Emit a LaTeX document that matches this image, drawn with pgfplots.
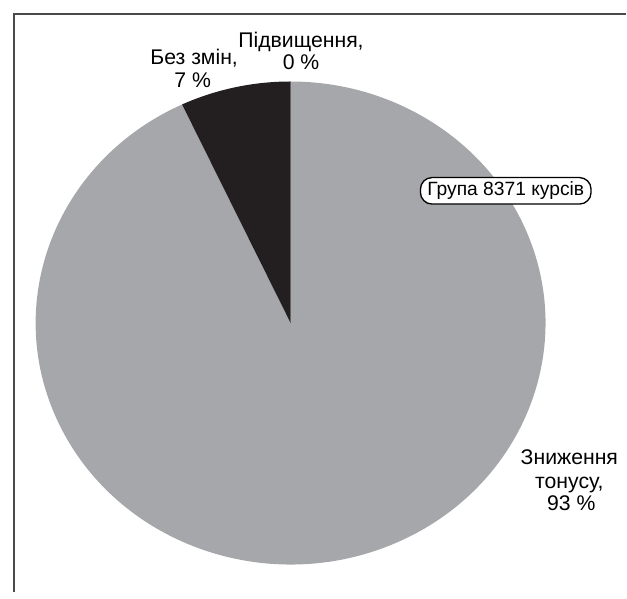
\documentclass[border=0pt]{standalone}
\usepackage{pgfplots}
\usepackage{pgfplotstable}
\pgfplotsset{compat=1.18}
\usepackage{fontspec}
\setmainfont{Liberation Sans}
\definecolor{piegray}{HTML}{A6A7AB}
\definecolor{piedark}{HTML}{231F20}
\definecolor{framec}{HTML}{4A4A4A}
\pgfplotstableread{
key value
znyzh 93
bez 7
pidv 0
}\piedata
\begin{document}
\begin{tikzpicture}
\begin{axis}[x=0.6pt, y=0.6pt, xmin=0, xmax=627, ymin=0, ymax=596,
  scale only axis, axis lines=none, clip=false]
\path (axis cs:0,0) rectangle (axis cs:627,596);
\pgfplotstablegetelem{0}{value}\of\piedata \let\vA\pgfplotsretval
\pgfplotstablegetelem{1}{value}\of\piedata \let\vB\pgfplotsretval
\pgfplotstablegetelem{2}{value}\of\piedata \let\vC\pgfplotsretval
\pgfmathsetmacro\aOne{90+3.6*\vC}
\pgfmathsetmacro\aTwo{\aOne+3.6*\vB}
\pgfmathsetmacro\aThree{\aTwo+3.6*\vA}
\pgfmathsetmacro\sBx{289.5+256.5*cos(\aOne)}
\pgfmathsetmacro\sBy{271+243*sin(\aOne)}
\pgfmathsetmacro\sAx{289.5+256.5*cos(\aTwo)}
\pgfmathsetmacro\sAy{271+243*sin(\aTwo)}
\fill[piegray] (axis cs:289.5,271) -- (axis cs:\sAx,\sAy)
  arc[start angle=\aTwo, end angle=\aThree, x radius=153.9pt, y radius=145.8pt] -- cycle;
\fill[piedark] (axis cs:289.5,271) -- (axis cs:\sBx,\sBy)
  arc[start angle=\aOne, end angle=\aTwo, x radius=153.9pt, y radius=145.8pt] -- cycle;
\draw[framec, line width=1.2pt] (axis cs:11,0) -- (axis cs:11,582) -- (axis cs:627,582);
\tikzset{lbl/.style={anchor=base, inner sep=0pt, font=\fontsize{12.8}{14}\selectfont}}
\node[lbl] at (axis cs:300,548) {Підвищення,};
\node[lbl] at (axis cs:300,526) {0 \%};
\node[lbl] at (axis cs:192.5,531) {Без змін,};
\node[lbl] at (axis cs:191,508) {7 \%};
\node[lbl] at (axis cs:570,129) {Зниження};
\node[lbl] at (axis cs:570,104) {тонусу,};
\node[lbl] at (axis cs:572,82) {93 \%};
\node[draw=black, fill=white, rounded corners=7pt, line width=0.8pt, inner xsep=0pt, inner ysep=0pt,
  minimum width=103pt, minimum height=16pt,
  font=\fontsize{11.6}{12}\selectfont] at (axis cs:506,404) {Група 8371 курсів};
\end{axis}
\end{tikzpicture}
\end{document}
